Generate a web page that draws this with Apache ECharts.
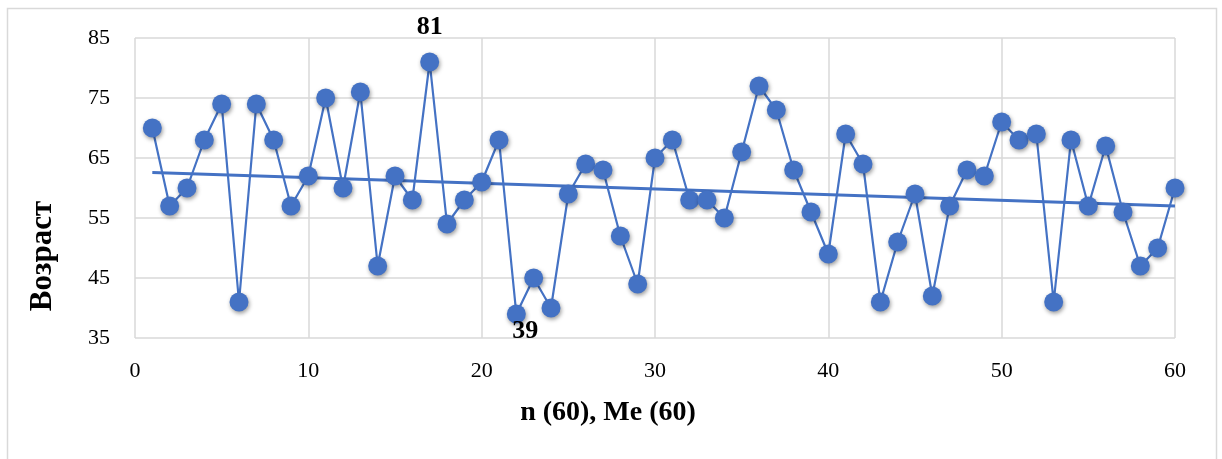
<!DOCTYPE html>
<html>
<head>
<meta charset="utf-8">
<script src="https://cdn.jsdelivr.net/npm/echarts@6/dist/echarts.min.js"></script>
<style>
  html, body { margin: 0; padding: 0; background: #fff; }
  #chart { width: 1222px; height: 459px; }
</style>
</head>
<body>
<div id="chart"></div>
<script>
// Ages of 60 patients, in order of observation
const observationIds = Array.from({ length: 60 }, (_, i) => i + 1);
const ages = [
  70, 57, 60, 68, 74, 41, 74, 68, 57, 62,
  75, 60, 76, 47, 62, 58, 81, 54, 58, 61,
  68, 39, 45, 40, 59, 64, 63, 52, 44, 65,
  68, 58, 58, 55, 66, 77, 73, 63, 56, 49,
  69, 64, 41, 51, 59, 42, 57, 63, 62, 71,
  68, 69, 41, 68, 57, 67, 56, 47, 50, 60
];
const xTicks = [0, 10, 20, 30, 40, 50, 60];
const yTicks = [35, 45, 55, 65, 75, 85];
const xTitle = 'n (60), Me (60)';
const yTitle = 'Возраст';

// Least-squares linear trend over the series
function linearTrend(xs, ys) {
  const n = xs.length;
  const mx = xs.reduce((a, b) => a + b, 0) / n;
  const my = ys.reduce((a, b) => a + b, 0) / n;
  let sxy = 0, sxx = 0;
  for (let i = 0; i < n; i++) {
    sxy += (xs[i] - mx) * (ys[i] - my);
    sxx += (xs[i] - mx) * (xs[i] - mx);
  }
  const slope = sxy / sxx;
  return x => my + slope * (x - mx);
}
const trend = linearTrend(observationIds, ages);
const xFirst = observationIds[0], xLast = observationIds[observationIds.length - 1];
const trendPoints = [[xFirst, trend(xFirst)], [xLast, trend(xLast)]];

const maxAge = Math.max(...ages), minAge = Math.min(...ages);
const points = observationIds.map((x, i) => {
  const v = ages[i];
  const p = { value: [x, v] };
  if (v === maxAge) {
    p.label = { show: true, position: 'top', distance: 12, formatter: String(v) };
  } else if (v === minAge) {
    p.label = { show: true, position: 'bottom', distance: 0, offset: [9, -5], formatter: String(v) };
  }
  return p;
});

const FONT = '"Liberation Serif", "Times New Roman", serif';
const BLUE = '#4472C4';
const GRID = '#d9d9d9';

const chart = echarts.init(document.getElementById('chart'), null, { renderer: 'canvas' });
chart.setOption({
  animation: false,
  backgroundColor: '#ffffff',
  grid: { left: 135, right: 47, top: 38, bottom: 121, containLabel: false },
  xAxis: {
    type: 'value',
    min: xTicks[0], max: xTicks[xTicks.length - 1], interval: 10,
    axisLine: { show: false },
    axisTick: { show: false },
    axisLabel: { color: '#000', fontFamily: FONT, fontSize: 22, margin: 22 },
    splitLine: { show: true, lineStyle: { color: GRID, width: 1.5 } }
  },
  yAxis: {
    type: 'value',
    min: yTicks[0], max: yTicks[yTicks.length - 1], interval: 10,
    axisLine: { show: false },
    axisTick: { show: false },
    axisLabel: { color: '#000', fontFamily: FONT, fontSize: 22, margin: 25 },
    splitLine: { show: true, lineStyle: { color: GRID, width: 1.5 } }
  },
  series: [
    {
      type: 'line',
      data: points,
      symbol: 'circle',
      symbolSize: 19,
      lineStyle: { color: BLUE, width: 2.2 },
      itemStyle: {
        color: BLUE,
        shadowColor: 'rgba(0,0,0,0.4)',
        shadowBlur: 4,
        shadowOffsetX: 1,
        shadowOffsetY: 2
      },
      label: { color: '#000', fontFamily: FONT, fontWeight: 'bold', fontSize: 26 },
      z: 3
    },
    {
      type: 'line',
      data: trendPoints,
      symbol: 'none',
      lineStyle: { color: BLUE, width: 3 },
      silent: true,
      z: 2
    }
  ],
  graphic: [
    {
      type: 'rect',
      shape: { x: 7.5, y: 8.5, width: 1209, height: 470 },
      style: { fill: null, stroke: GRID, lineWidth: 1.5 },
      silent: true, z: -1
    },
    {
      type: 'text',
      x: 43, y: 256,
      rotation: Math.PI / 2,
      style: {
        text: yTitle, fill: '#000', font: 'bold 31px ' + FONT,
        align: 'center', verticalAlign: 'middle'
      }
    },
    {
      type: 'text',
      x: 608, y: 413,
      style: {
        text: xTitle, fill: '#000', font: 'bold 28px ' + FONT,
        align: 'center', verticalAlign: 'middle'
      }
    }
  ]
});
</script>
</body>
</html>
